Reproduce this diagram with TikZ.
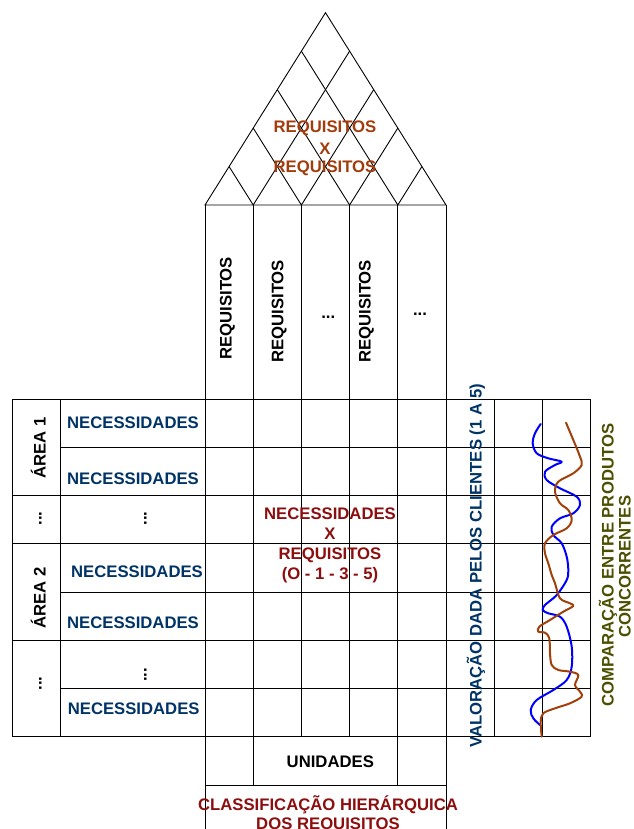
\documentclass[tikz,border=0pt]{standalone}
\usepackage{fontspec}
\setmainfont{Liberation Sans}
\usetikzlibrary{calc}
\definecolor{needblue}{RGB}{0,51,102}
\definecolor{matrixred}{RGB}{140,14,14}
\definecolor{roofbrown}{RGB}{163,60,12}
\definecolor{curvebrown}{RGB}{160,64,10}
\definecolor{olivetext}{RGB}{76,78,0}
\begin{document}
\begin{tikzpicture}[x=1pt,y=-1pt,
  gridline/.style={line width=0.9pt, black},
  txt/.style={font=\fontsize{16.7}{20}\selectfont\bfseries, inner sep=0pt},
  vtxt/.style={txt, rotate=90},
  curve/.style={line width=2pt, line cap=round, line join=round}]
\useasboundingbox (0,0) rectangle (633,829);
\clip (0,0) rectangle (633,829);

% ---- roof: correlation triangle with its diamond lattice
\coordinate (rl) at (205,205);
\coordinate (rr) at (446,205);
\coordinate (rt) at (325.5,12.7);
\draw[gridline] (rl) -- (rt) -- (rr) -- cycle;
\foreach \i in {1,...,4}{
  \draw[gridline] ($(rl)!\i/5!(rt)$) -- ($(rl)!\i/5!(rr)$) -- ($(rr)!1-\i/5!(rt)$);
}

% ---- main grid
\draw[gridline] (12.7,399.3) rectangle (590,736.7);
\foreach \y in {447.5,592.1,688.5}{
  \draw[gridline] (60.7,\y) -- (590,\y);
}
\foreach \y in {495.7,543.9,640.3}{
  \draw[gridline] (12.7,\y) -- (590,\y);
}
\draw[gridline] (60.7,399.3) -- (60.7,736.7);
\foreach \x in {301.4,349.6}{
  \draw[gridline] (\x,205) -- (\x,736.7);
}
\foreach \x in {253.2,397.8}{
  \draw[gridline] (\x,205) -- (\x,785);
}
\foreach \x in {205,446}{
  \draw[gridline] (\x,205) -- (\x,840);
}
\foreach \x in {494.2,542.2}{
  \draw[gridline] (\x,399.3) -- (\x,736.7);
}
\draw[gridline] (205,785) -- (446,785);

% ---- roof label
\node[txt, roofbrown, anchor=base] (roof1) at (325,133) {REQUISITOS};
\node[txt, roofbrown, anchor=base] (roof2) at (325,155) {X};
\node[txt, roofbrown, anchor=base] (roof3) at (325,173) {REQUISITOS};

% ---- requirement headers
\node[vtxt, anchor=base] (req1) at (231.7,308.3) {REQUISITOS};
\node[vtxt, anchor=base] (req2) at (283.3,311.3) {REQUISITOS};
\node[txt, anchor=base] (reqdots1) at (328.3,318.5) {...};
\node[vtxt, anchor=base] (req4) at (370.7,311.3) {REQUISITOS};
\node[txt, anchor=base] (reqdots2) at (420,315) {...};

% ---- areas
\node[vtxt, anchor=base] (area1) at (45.7,448.3) {ÁREA 1};
\node[vtxt, anchor=base] (areadots1) at (41.5,518.5) {...};
\node[vtxt, anchor=base] (area2) at (45.7,597.8) {ÁREA 2};
\node[vtxt, anchor=base] (areadots2) at (41.5,683.5) {...};

% ---- needs
\node[txt, needblue, anchor=base] (need1) at (133,428.3) {NECESSIDADES};
\node[txt, needblue, anchor=base] (need2) at (133,484) {NECESSIDADES};
\node[vtxt, anchor=base] (needdots1) at (146.5,518.5) {...};
\node[txt, needblue, anchor=base] (need4) at (137,577.3) {NECESSIDADES};
\node[txt, needblue, anchor=base] (need5) at (133,628.3) {NECESSIDADES};
\node[vtxt, anchor=base] (needdots2) at (146.5,675) {...};
\node[txt, needblue, anchor=base] (need7) at (133.7,714.3) {NECESSIDADES};

% ---- relationship matrix label
\node[txt, matrixred, anchor=base] (rel1) at (330,519.5) {NECESSIDADES};
\node[txt, matrixred, anchor=base] (rel2) at (330,539.5) {X};
\node[txt, matrixred, anchor=base] (rel3) at (330,559.5) {REQUISITOS};
\node[txt, matrixred, anchor=base] (rel4) at (330,579.5) {(O - 1 - 3 - 5)};

% ---- bottom rows
\node[txt, anchor=base] (units) at (330.3,767.7) {UNIDADES};
\node[txt, matrixred, anchor=base] (rank1) at (328,810) {CLASSIFICAÇÃO HIERÁRQUICA};
\node[txt, matrixred, anchor=base] (rank2) at (328,829.5) {DOS REQUISITOS};

% ---- customer rating and competitor comparison
\node[vtxt, needblue, anchor=base] (rating) at (481.5,565.8) {VALORAÇÃO DADA PELOS CLIENTES (1 A 5)};
\node[vtxt, olivetext, anchor=base] (comp1) at (613.5,565) {COMPARAÇÃO ENTRE PRODUTOS};
\node[vtxt, olivetext, anchor=base] (comp2) at (630.5,566.7) {CONCORRENTES};

% ---- competitor profiles
\draw[curve, blue] plot[smooth, tension=0.55] coordinates {
  (540.7,424) (535,433.3) (532.7,443.3) (536.7,453.3) (548.3,458.3)
  (561.7,461.7) (555,465) (545,471.7) (546.7,480) (560,488.3)
  (576.7,496.7) (580,505) (573.3,513.3) (560,518.3) (551.7,526.7)
  (553.3,535) (561.7,543.3) (566.7,556.7) (568.3,570) (566.7,580)
  (556.7,595) (545,605) (542.7,610) (548.3,613.3) (560,616.7)
  (566.7,626.7) (571.7,646.7) (571.7,666.7) (566.7,680) (553.3,690)
  (536.7,700) (530.7,710) (533.3,718.3) (540,725)};
\draw[curve, curvebrown] plot[smooth, tension=0.55] coordinates {
  (566,422.7) (573.3,440) (580,456.7) (581.7,465) (573.3,473.3)
  (558.3,481.7) (555,491.7) (560,503.3) (568.3,510) (571.7,520)
  (566.7,528.3) (553.3,535) (545,543.3) (545,553.3) (548.3,563.3)
  (551.7,575) (555,583.3) (560,598.3) (570,603.3) (573.3,606)
  (563.3,611.7) (550,620) (539.3,626.7) (538.3,631.7) (545,632.7)
  (549.3,638.3) (550,653.3) (551.7,665) (558.3,670) (570,671.7)
  (578.3,675) (575,685) (580,691.7) (581.7,696.7) (570,703.3)
  (555,708.3) (543.3,713.3) (540.7,721.7) (541.7,736.7)};
\end{tikzpicture}
\end{document}
